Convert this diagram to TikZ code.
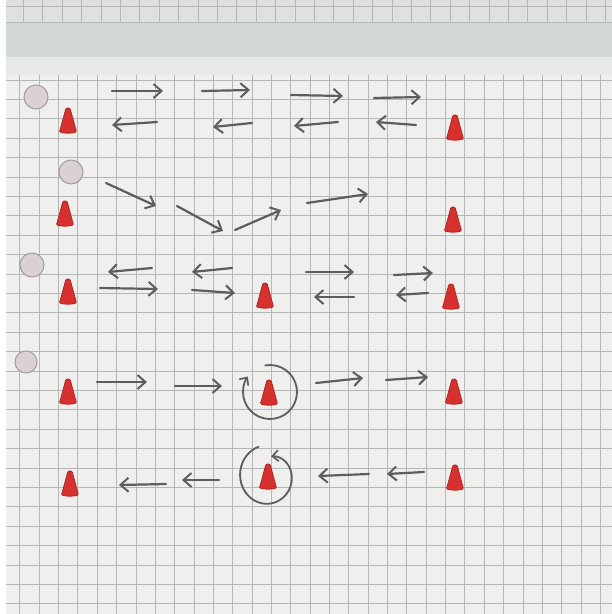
\documentclass[tikz,border=0pt]{standalone}
\usetikzlibrary{arrows.meta}
\definecolor{paper}{HTML}{EFEFEE}
\definecolor{fold}{HTML}{D3D7D6}
\definecolor{foldlight}{HTML}{E7E9E8}
\definecolor{gridgray}{HTML}{B3B7B6}
\definecolor{pencil}{HTML}{5C5D5D}
\definecolor{conered}{HTML}{D6302F}
\definecolor{coneedge}{HTML}{B32420}
\definecolor{markfill}{HTML}{DBD0D3}
\definecolor{markedge}{HTML}{A39B9E}
\tikzset{
  gridline/.style={gridgray, line width=0.9pt},
  run/.style={pencil, line width=2.2pt, line cap=round, -{Straight Barb[length=8pt,width=14pt,line width=2pt]}},
  turn/.style={pencil, line width=1.8pt, line cap=round, -{Straight Barb[length=6pt,width=11pt,line width=1.7pt]}},
  startdot/.style={fill=markfill, draw=markedge, line width=1pt},
  cone/.pic={\filldraw[fill=conered, draw=coneedge, line width=0.8pt, rounded corners=1.2pt]
    (-8.5,12) -- (-2,-12) -- (2,-12) -- (8.5,12) .. controls (3,13.5) and (-3,13.5) .. (-8.5,12) -- cycle;}
}
\begin{document}
\begin{tikzpicture}[x=1pt, y=-1pt]
\useasboundingbox (0,0) rectangle (612,614);
\fill[paper] (0,0) rectangle (612,614);
\fill[foldlight!85!gridgray] (0,0) rectangle (612,23);
\foreach \i in {0,...,31} \draw[gridline] ({4+19.4*\i},0) -- ++(0,23);
\draw[gridline] (0,6) -- (612,6);
\draw[gridline] (0,22) -- (612,22);
\fill[fold] (0,23) rectangle (612,57);
\fill[foldlight] (0,57) rectangle (612,75);
\foreach \i in {0,...,31} \draw[gridline] ({0.5+19.35*\i},75) -- ++(0,539);
\foreach \j in {0,...,27} \draw[gridline] (0,{80+19.4*\j}) -- (612,{80+19.4*\j});
\fill[white] (0,0) rectangle (6,614);
\filldraw[startdot] (36,97) circle (12);
\filldraw[startdot] (71,172) circle (12);
\filldraw[startdot] (32,265) circle (12);
\filldraw[startdot] (26,362) circle (11);
\pic at (68,120) {cone};
\pic at (455,127) {cone};
\pic at (65,213) {cone};
\pic at (453,219) {cone};
\pic at (68,291) {cone};
\pic at (265,295) {cone};
\pic at (451,296) {cone};
\pic at (68,391) {cone};
\pic at (269,392) {cone};
\pic at (454,391) {cone};
\pic at (70,483) {cone};
\pic at (268,476) {cone};
\pic at (455,477) {cone};
\draw[run] (112,91) -- (163,91);
\draw[run] (202,91) -- (250,90);
\draw[run] (291,95) -- (343,96);
\draw[run] (374,98) -- (421,97);
\draw[run] (157,122) -- (112,125);
\draw[run] (252,123) -- (213,127);
\draw[run] (338,122) -- (294,126);
\draw[run] (416,125) -- (376,122);
\draw[run] (106,183) -- (156,206);
\draw[run] (177,206) -- (223,231);
\draw[run] (235,230) -- (281,210);
\draw[run] (307,203) -- (368,194);
\draw[run] (152,268) -- (108,272);
\draw[run] (232,268) -- (192,272);
\draw[run] (100,288) -- (158,289);
\draw[run] (192,290) -- (235,293);
\draw[run] (306,272) -- (354,272);
\draw[run] (394,275) -- (433,273);
\draw[run] (354,297) -- (314,297);
\draw[run] (428,293) -- (396,295);
\draw[run] (97,382) -- (147,382);
\draw[run] (175,386) -- (222,386);
\draw[run] (316,383) -- (363,378);
\draw[run] (386,380) -- (428,377);
\draw[turn] (270,392) ++(-100:27) arc[start angle=-100, end angle=215, radius=27];
\draw[run] (166,484) -- (119,485);
\draw[run] (219,480) -- (182,480);
\draw[run] (369,474) -- (318,476);
\draw[run] (424,472) -- (387,474);
\draw[turn] plot[domain=-110:-440, samples=90, variable=\t] ({268+(28-10*((-110-\t)/330)^3)*cos(\t)}, {475+(30-11*((-110-\t)/330)^3)*sin(\t)});
\end{tikzpicture}
\end{document}
